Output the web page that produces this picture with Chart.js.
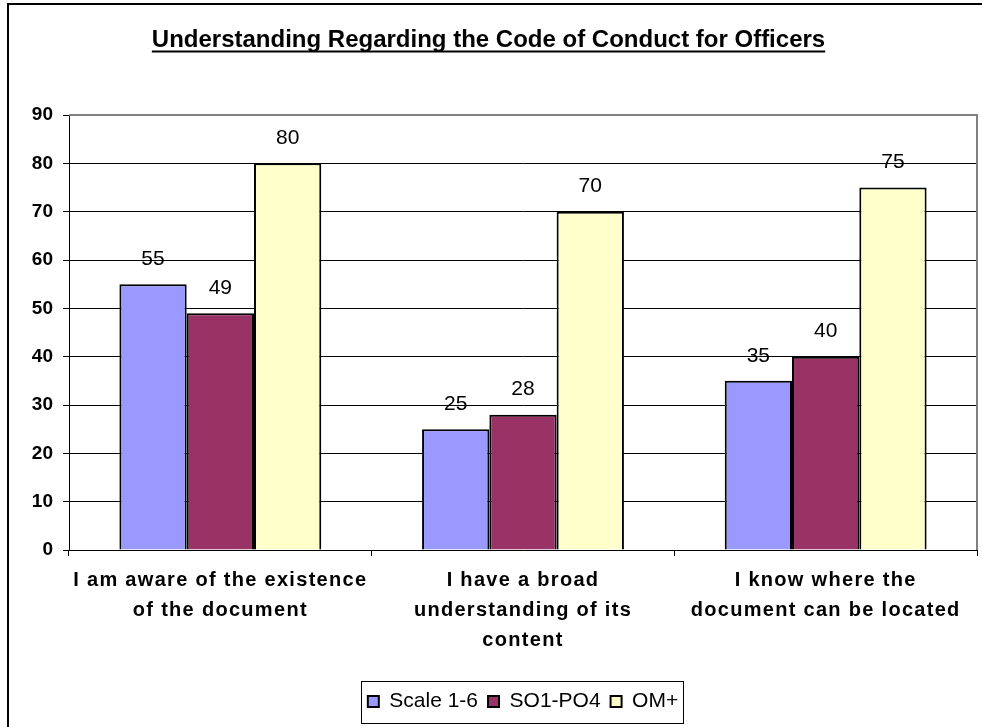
<!DOCTYPE html>
<html>
<head>
<meta charset="utf-8">
<script src="https://cdn.jsdelivr.net/npm/chart.js@4/dist/chart.umd.min.js"></script>
<style>
html,body{margin:0;padding:0;background:#fff;}
#wrap{width:982px;height:727px;position:relative;overflow:hidden;}
</style>
</head>
<body>
<div id="wrap"><canvas id="c" width="982" height="727"></canvas></div>
<script>
// ---- data ----
const chartTitle = 'Understanding Regarding the Code of Conduct for Officers';
const categories = [
  ['I am aware of the existence', 'of the document'],
  ['I have a broad', 'understanding of its', 'content'],
  ['I know where the', 'document can be located']
];
const seriesNames = ['Scale 1-6', 'SO1-PO4', 'OM+'];
const scale16 = [55, 25, 35];
const so1po4 = [49, 28, 40];
const omPlus = [80, 70, 75];
const yMin = 0, yMax = 90, yStep = 10;

const FONT = '"Liberation Sans", Arial, Helvetica, sans-serif';
const colors = ['#9999FF', '#993366', '#FFFFCC'];

const framePlugin = {
  id: 'frame',
  afterLayout(chart) {
    const lg = chart.legend, a = chart.chartArea;
    if (!lg) return;
    const dx = (a.left + a.right) / 2 - (lg.left + lg.right) / 2;
    lg.left += dx; lg.right += dx;
    (lg.legendHitBoxes || []).forEach(h => { h.left += dx; });
  },
  beforeDraw(chart) {
    const ctx = chart.ctx;
    ctx.save();
    ctx.fillStyle = '#fff';
    ctx.fillRect(0, 0, chart.width, chart.height);
    ctx.strokeStyle = '#000';
    ctx.lineWidth = 2;
    ctx.strokeRect(8, 4, chart.width + 20, chart.height + 20);
    ctx.restore();
    // letter spacing for category labels
    const xs = chart.scales.x;
    if (xs && !xs._lsPatched) {
      const orig = xs.drawLabels;
      xs.drawLabels = function (ca) {
        const c = this.ctx;
        c.save();
        try { c.letterSpacing = '1.3px'; } catch (e) {}
        orig.call(this, ca);
        c.restore();
      };
      xs._lsPatched = true;
    }
  },
  beforeDatasetsDraw(chart) {
    const {ctx, chartArea: a} = chart;
    ctx.save();
    ctx.strokeStyle = '#808080';
    ctx.lineWidth = 2;
    ctx.beginPath();
    ctx.moveTo(a.left, a.top);
    ctx.lineTo(a.right, a.top);
    ctx.lineTo(a.right, a.bottom);
    ctx.stroke();
    ctx.restore();
  },
  afterDatasetsDraw(chart) {
    const ctx = chart.ctx;
    ctx.save();
    ctx.font = '21px ' + FONT;
    ctx.fillStyle = '#000';
    ctx.textAlign = 'center';
    ctx.textBaseline = 'middle';
    chart.data.datasets.forEach((ds, i) => {
      const meta = chart.getDatasetMeta(i);
      meta.data.forEach((bar, j) => {
        ctx.fillText(String(ds.data[j]), bar.x, bar.y - 25);
      });
    });
    ctx.restore();
  },
  afterDraw(chart) {
    const ctx = chart.ctx;
    ctx.save();
    // title underline
    const tb = chart.titleBlock;
    ctx.font = 'bold 24px ' + FONT;
    const w = ctx.measureText(chartTitle).width;
    const cx = (tb.left + tb.right) / 2;
    ctx.fillStyle = '#000';
    ctx.fillRect(cx - w / 2, 50.5, w, 2);
    // legend frame
    const hb = chart.legend.legendHitBoxes;
    if (hb && hb.length) {
      let l = Infinity, r = -Infinity, t = Infinity, b = -Infinity;
      hb.forEach(h => {
        l = Math.min(l, h.left); r = Math.max(r, h.left + h.width);
        t = Math.min(t, h.top); b = Math.max(b, h.top + h.height);
      });
      ctx.strokeStyle = '#000';
      ctx.lineWidth = 1;
      ctx.strokeRect(Math.round(l - 7) + 0.5, Math.round(t - 10) + 0.5, Math.round(r - l + 12), Math.round(b - t + 21));
    }
    ctx.restore();
  }
};

new Chart(document.getElementById('c'), {
  type: 'bar',
  data: {
    labels: categories,
    datasets: [
      {label: seriesNames[0], data: scale16, backgroundColor: colors[0]},
      {label: seriesNames[1], data: so1po4, backgroundColor: colors[1]},
      {label: seriesNames[2], data: omPlus, backgroundColor: colors[2]}
    ].map(d => Object.assign(d, {borderColor: '#000', borderWidth: 2, barPercentage: 1, categoryPercentage: 0.667}))
  },
  options: {
    responsive: false,
    devicePixelRatio: 1,
    animation: false,
    layout: {padding: {left: 0, right: 5, top: 0, bottom: 5}},
    plugins: {
      title: {
        display: true,
        text: chartTitle,
        color: '#000',
        font: {family: FONT, size: 24, weight: 'bold', lineHeight: 1.2},
        padding: {top: 26, bottom: 60.2}
      },
      legend: {
        position: 'bottom',
        labels: {
          color: '#000',
          font: {family: FONT, size: 21},
          boxWidth: 11,
          boxHeight: 11,
          padding: 10
        }
      },
      tooltip: {enabled: false}
    },
    scales: {
      x: {
        afterFit(s) { s.height = 131; },
        grid: {display: true, drawOnChartArea: false, drawTicks: true, tickLength: 6, color: '#000', offset: true},
        border: {display: true, color: '#000', width: 1},
        ticks: {
          color: '#000',
          font: {family: FONT, size: 20, weight: 'bold', lineHeight: 1.5},
          padding: 9,
          maxRotation: 0,
          autoSkip: false
        }
      },
      y: {
        min: yMin,
        max: yMax,
        afterFit(s) { s.width = 69; },
        grid: {color: '#000', lineWidth: 1, tickLength: 6, drawTicks: true},
        border: {display: true, color: '#000', width: 1},
        ticks: {
          stepSize: yStep,
          color: '#000',
          font: {family: FONT, size: 19, weight: 'bold'},
          padding: 10
        }
      }
    }
  },
  plugins: [framePlugin]
});
</script>
</body>
</html>
